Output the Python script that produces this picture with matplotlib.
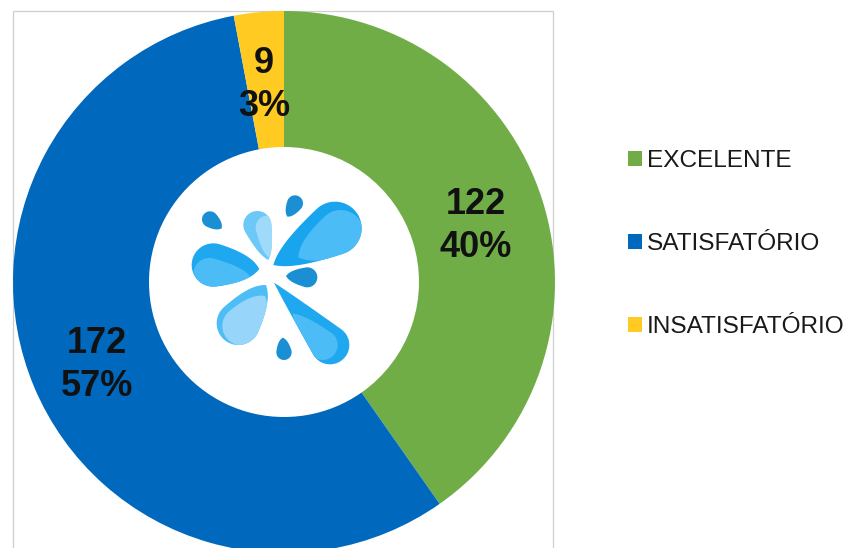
import numpy as np
import matplotlib
matplotlib.use("Agg")
import matplotlib.pyplot as plt
from matplotlib.patches import Polygon, Rectangle

plt.rcParams['font.family'] = ['Liberation Sans', 'DejaVu Sans']

categories = ['EXCELENTE', 'SATISFATÓRIO', 'INSATISFATÓRIO']
counts = [122, 172, 9]
percents = ['40%', '57%', '3%']
colors = ['#70AD47', '#0069BD', '#FFCB23']

# label centres, in pixels of the picture
label_pos = [(476, 226), (97, 365), (264, 85)]

H = 548


def drop_points(tip, center, r):
    # teardrop: round end at center, sharp end at tip (zoom crop coords)
    tip = np.array(tip, float)
    center = np.array(center, float)
    d = tip - center
    a = np.arctan2(d[1], d[0])
    L = 0.7 * np.hypot(d[0], d[1])
    spread = 1.35
    th = np.linspace(a + spread, a + 2 * np.pi - spread, 40)
    arc = center + r * np.column_stack([np.cos(th), np.sin(th)])
    t = np.linspace(0, 1, 20)[:, None]
    # sides leave the circle along its tangent, then run into the tip
    t1 = np.array([np.cos(a + spread - np.pi / 2), np.sin(a + spread - np.pi / 2)])
    t2 = np.array([np.cos(a - spread + np.pi / 2), np.sin(a - spread + np.pi / 2)])
    p1 = arc[0] + L * t1
    p2 = arc[-1] + L * t2
    side1 = (1 - t) ** 3 * arc[-1] + 3 * t * (1 - t) ** 2 * p2 + 3 * t ** 2 * (1 - t) * (tip + 0.35 * (p2 - tip)) + t ** 3 * tip
    side2 = (1 - t) ** 3 * tip + 3 * t * (1 - t) ** 2 * (tip + 0.35 * (p1 - tip)) + 3 * t ** 2 * (1 - t) * p1 + t ** 3 * arc[0]
    pts = np.vstack([arc, side1, side2])
    # crop coords (3x from 170,170) to axes coords
    return np.column_stack([170 + pts[:, 0] / 3, H - (170 + pts[:, 1] / 3)])


def drop(ax, tip, center, r, color, inner=None):
    outer = Polygon(drop_points(tip, center, r), closed=True, fc=color, ec='none', zorder=5)
    ax.add_patch(outer)
    if inner:
        p = Polygon(drop_points(inner[0], inner[1], inner[2]), closed=True, fc=inner[3], ec='none', zorder=6)
        ax.add_patch(p)
        p.set_clip_path(outer)


fig = plt.figure(figsize=(8.51, 5.48), dpi=100)
ax = fig.add_axes([0, 0, 1, 1])
ax.set_xlim(0, 851)
ax.set_ylim(0, H)
ax.axis('off')

# chart frame
ax.add_patch(Rectangle((13, -20), 540, H - 11 + 20, fc='white', ec='#CFCFCF', lw=0.9, zorder=0))

wedges, _ = ax.pie(counts, colors=colors, startangle=90, counterclock=False,
                   radius=271, center=(284, H - 282), frame=True,
                   wedgeprops=dict(width=271 - 135, linewidth=0))
ax.set_xlim(0, 851)
ax.set_ylim(0, H)
ax.set_aspect('auto')
ax.axis('off')

for n, pct, (x, y) in zip(counts, percents, label_pos):
    ax.text(x, H - y, f'{n}\n{pct}', ha='center', va='center', fontsize=26,
            fontweight='bold', color='#111111', linespacing=1.33, zorder=4)

# logo in the hole
drop(ax, (310, 285), (495, 175), 80, '#18A5EE', ((385, 262), (512, 188), 68, '#4CBCF7'))
drop(ax, (268, 297), (130, 285), 65, '#1FA8EF', ((240, 318), (118, 312), 48, '#4CBCF7'))
drop(ax, (295, 270), (262, 165), 42, '#6CC8F7', ((295, 262), (292, 172), 35, '#A0DAFA'))
drop(ax, (288, 345), (205, 460), 65, '#4FBDF5', ((285, 378), (215, 468), 58, '#97D6FA'))
drop(ax, (312, 338), (480, 525), 58, '#1FA8EF', ((368, 430), (458, 525), 45, '#4CBCF7'))
drop(ax, (155, 175), (120, 148), 24, '#1B8FD4')
drop(ax, (352, 140), (375, 100), 24, '#1B8FD4')
drop(ax, (348, 318), (412, 322), 30, '#1B8FD4')
drop(ax, (338, 503), (342, 547), 23, '#1B8FD4')

leg = ax.legend(wedges, categories, loc='center left', bbox_to_anchor=(628 / 851, 1 - 244 / H),
                bbox_transform=fig.transFigure, frameon=False, fontsize=17.6,
                labelspacing=2.5, handlelength=0.58, handleheight=0.58,
                handletextpad=0.2, borderpad=0, borderaxespad=0)
for t in leg.get_texts():
    t.set_color('#1A1A1A')

fig.savefig('out.png', dpi=100)
